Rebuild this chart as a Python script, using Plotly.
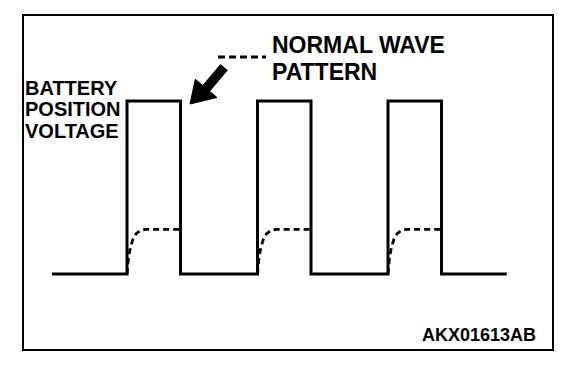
import plotly.graph_objects as go

# Signal timing (ms) and levels (V)
rise_t = [0.0, 10.0, 20.0]
fall_t = [4.1, 14.1, 24.1]
start_t = -5.75
end_t = 29.1
low_v = 0.0
high_v = 12.0

# Normal wave shape after each rising edge (offset from the edge, volts)
normal_dt = [0.0, 0.1, 0.25, 0.45, 0.7, 1.0, 1.4, 4.1]
normal_v = [0.0, 1.0, 1.8, 2.4, 2.8, 3.0, 3.1, 3.1]

label_left = ["BATTERY", "POSITION", "VOLTAGE"]
label_top = ["NORMAL WAVE", "PATTERN"]
code_label = "AKX01613AB"

W, H = 576, 370
FONT = "Liberation Sans, Arial, sans-serif"


def px(x):
    return x / W


def py(y):
    return 1 - y / H


# Battery-position square wave
wave_t = [start_t]
wave_v = [low_v]
for r, f in zip(rise_t, fall_t):
    wave_t += [r, r, f, f]
    wave_v += [low_v, high_v, high_v, low_v]
wave_t.append(end_t)
wave_v.append(low_v)

fig = go.Figure()
fig.add_trace(go.Scatter(
    x=wave_t, y=wave_v, mode="lines",
    line=dict(color="black", width=3),
    hoverinfo="skip", showlegend=False,
))
for r, f in zip(rise_t, fall_t):
    fig.add_trace(go.Scatter(
        x=[r + d for d in normal_dt[:-1]] + [f],
        y=normal_v, mode="lines",
        line=dict(color="black", width=2.8, dash="6px,4px"),
        hoverinfo="skip", showlegend=False,
    ))

# Arrow pointing at the wave (pixel outline)
arrow_px = [(190, 104), (217.0, 97.5), (209.6, 91.2), (227.3, 70.3),
            (220.5, 64.6), (202.8, 85.6), (195.3, 79.3)]
arrow_path = "M " + " L ".join(f"{px(x):.4f},{py(y):.4f}" for x, y in arrow_px) + " Z"

shapes = [
    dict(type="rect", xref="paper", yref="paper",
         x0=px(23), x1=px(553), y0=py(15), y1=py(350),
         line=dict(color="black", width=2)),
    dict(type="line", xref="paper", yref="paper",
         x0=px(218), x1=px(266), y0=py(57), y1=py(57),
         line=dict(color="black", width=3, dash="7px,4px")),
    dict(type="path", xref="paper", yref="paper", path=arrow_path,
         fillcolor="black", line=dict(color="black", width=1)),
]

annotations = []
for i, s in enumerate(label_left):
    annotations.append(dict(
        text=f"<b>{s}</b>", xref="paper", yref="paper", x=px(23), y=py(88 + 21.5 * i),
        xanchor="left", yanchor="middle", showarrow=False,
        font=dict(family=FONT, size=20, color="black"),
    ))
for i, s in enumerate(label_top):
    annotations.append(dict(
        text=f"<b>{s}</b>", xref="paper", yref="paper", x=px(270), y=py(45.5 + 26 * i),
        xanchor="left", yanchor="middle", showarrow=False,
        font=dict(family=FONT, size=23, color="black"),
    ))
annotations.append(dict(
    text=f"<b>{code_label}</b>", xref="paper", yref="paper", x=px(538), y=py(335),
    xanchor="right", yanchor="middle", showarrow=False,
    font=dict(family=FONT, size=18, color="black"),
))

# Map the time/voltage axes onto the drawing area
x_scale = 13.05   # px per ms
x0_px = 127
y_scale = 14.42   # px per V
y0_px = 274

fig.update_layout(
    width=W, height=H,
    margin=dict(l=0, r=0, t=0, b=0),
    paper_bgcolor="white", plot_bgcolor="white",
    xaxis=dict(range=[-x0_px / x_scale, (W - x0_px) / x_scale],
               visible=False, fixedrange=True),
    yaxis=dict(range=[(y0_px - H) / y_scale, y0_px / y_scale],
               visible=False, fixedrange=True),
    shapes=shapes,
    annotations=annotations,
)

fig.write_html("out.html")
